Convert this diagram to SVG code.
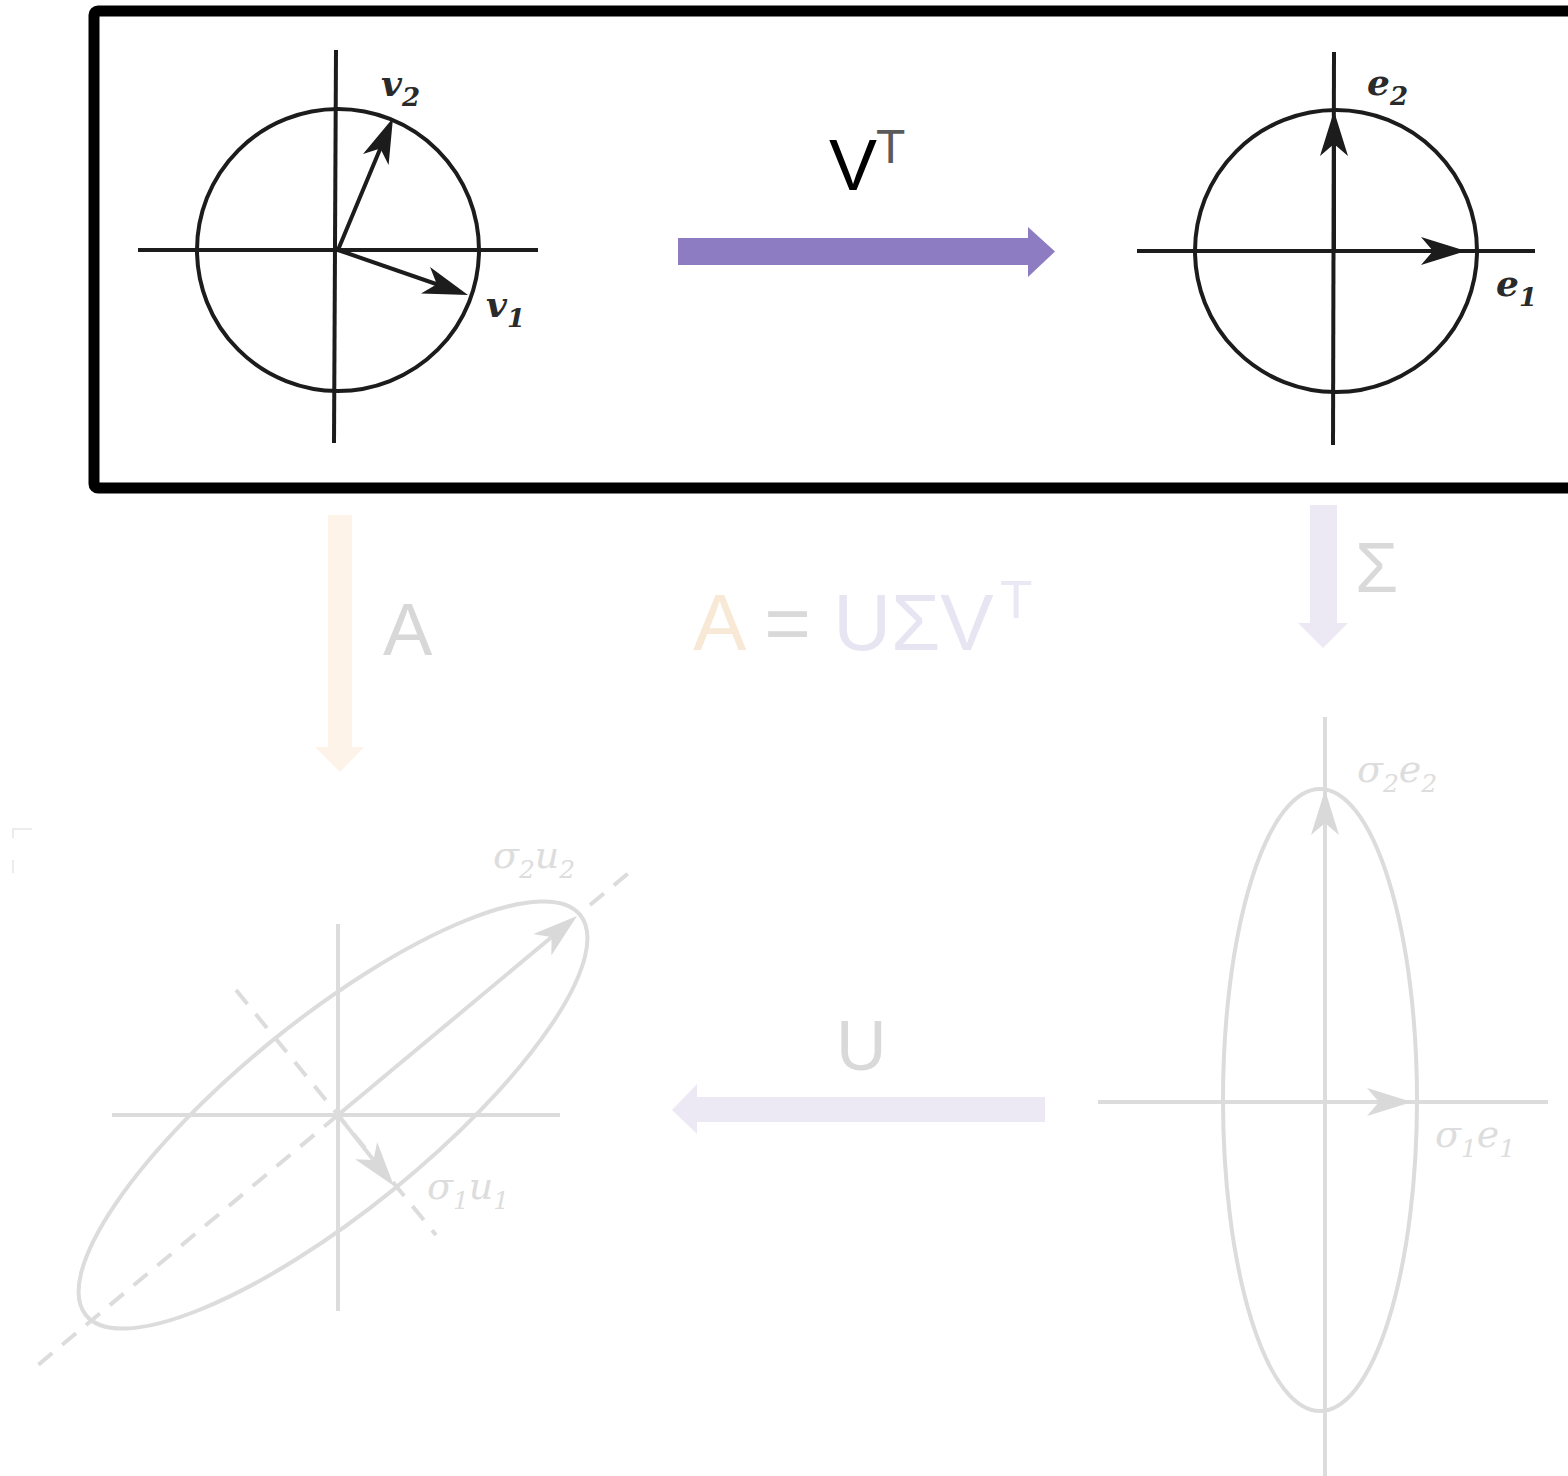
<svg xmlns="http://www.w3.org/2000/svg" width="1568" height="1476" viewBox="0 0 1568 1476">
<style>
.dk{fill:none;stroke:#1c1c1c;stroke-width:4}
.fd{fill:none;stroke:#dcdcdc;stroke-width:4}
.dash{fill:none;stroke:#dcdcdc;stroke-width:4;stroke-dasharray:18 13}
.vlab{font-family:"DejaVu Serif","Liberation Serif",serif;font-style:italic;font-weight:bold;font-size:36px;fill:#2a2a2a}
.slab{font-family:"DejaVu Serif","Liberation Serif",serif;font-style:italic;font-size:38px;fill:#dddddd}
.sans{font-family:"Liberation Sans",Arial,sans-serif}
</style>
<defs>
<marker id="hd" markerUnits="userSpaceOnUse" viewBox="0 0 45 28" markerWidth="45" markerHeight="28" refX="25" refY="14" orient="auto">
<path d="M0,0 L45,14 L0,28 L12,14 z" fill="#1c1c1c"/>
</marker>
<marker id="hf" markerUnits="userSpaceOnUse" viewBox="0 0 45 28" markerWidth="45" markerHeight="28" refX="25" refY="14" orient="auto">
<path d="M0,0 L45,14 L0,28 L12,14 z" fill="#d9d9d9"/>
</marker>
</defs>
<rect width="1568" height="1476" fill="#ffffff"/>

<g id="frame">
<rect x="94" y="11" width="1500" height="477" rx="4" fill="none" stroke="#000000" stroke-width="11"/>
</g>

<g id="node-unit-circle-v">
<circle cx="338" cy="250" r="141" class="dk"/>
<line x1="138" y1="250" x2="538" y2="250" class="dk" stroke-width="5"/>
<line x1="336" y1="50" x2="334" y2="443" class="dk"/>
<line x1="338" y1="250" x2="385.3" y2="136.5" class="dk" marker-end="url(#hd)"/>
<line x1="338" y1="250" x2="449.1" y2="288.5" class="dk" marker-end="url(#hd)"/>
<text x="381" y="96" class="vlab">v<tspan dy="10" font-size="26">2</tspan></text>
<text x="486" y="317" class="vlab">v<tspan dy="10" font-size="26">1</tspan></text>
</g>

<g id="node-unit-circle-e">
<circle cx="1336" cy="251" r="141" class="dk"/>
<line x1="1137" y1="251" x2="1535" y2="251" class="dk" stroke-width="5"/>
<line x1="1334" y1="52" x2="1333" y2="445" class="dk"/>
<line x1="1334" y1="251" x2="1334" y2="131" class="dk" marker-end="url(#hd)"/>
<line x1="1334" y1="251" x2="1446" y2="251" class="dk" marker-end="url(#hd)"/>
<text x="1367" y="95" class="vlab">e<tspan dy="10" font-size="26">2</tspan></text>
<text x="1496" y="296" class="vlab">e<tspan dy="10" font-size="26">1</tspan></text>
</g>

<g id="node-ellipse-u">
<path d="M13,828 L13,838 M13,829 L32,829 M13,860 L13,873" fill="none" stroke="#ececec" stroke-width="2"/>
<line x1="338" y1="1115" x2="38" y2="1365" class="dash"/>
<line x1="590" y1="905" x2="631" y2="871" class="dash"/>
<line x1="236" y1="990" x2="436" y2="1235" class="dash"/>
<ellipse cx="333" cy="1115" rx="318" ry="96" transform="rotate(-39 333 1115)" class="fd"/>
<line x1="112" y1="1115" x2="560" y2="1115" class="fd"/>
<line x1="338" y1="924" x2="338" y2="1311" class="fd"/>
<line x1="338" y1="1115" x2="561.6" y2="928.8" class="fd" marker-end="url(#hf)"/>
<line x1="338" y1="1115" x2="381.6" y2="1170.3" class="fd" marker-end="url(#hf)"/>
<text x="493" y="868" class="slab">σ<tspan dy="10" font-size="25">2</tspan><tspan dy="-10">u</tspan><tspan dy="10" font-size="25">2</tspan></text>
<text x="427" y="1199" class="slab">σ<tspan dy="10" font-size="25">1</tspan><tspan dy="-10">u</tspan><tspan dy="10" font-size="25">1</tspan></text>
</g>

<g id="node-ellipse-e">
<ellipse cx="1320" cy="1100" rx="97" ry="311" class="fd"/>
<line x1="1098" y1="1102" x2="1548" y2="1102" class="fd"/>
<line x1="1325" y1="717" x2="1325" y2="1476" class="fd"/>
<line x1="1325" y1="1102" x2="1325" y2="810" class="fd" marker-end="url(#hf)"/>
<line x1="1325" y1="1102" x2="1392" y2="1102" class="fd" marker-end="url(#hf)"/>
<text x="1357" y="782" class="slab">σ<tspan dy="10" font-size="25">2</tspan><tspan dy="-10">e</tspan><tspan dy="10" font-size="25">2</tspan></text>
<text x="1435" y="1147" class="slab">σ<tspan dy="10" font-size="25">1</tspan><tspan dy="-10">e</tspan><tspan dy="10" font-size="25">1</tspan></text>
</g>

<g id="node-formula">
<text x="693" y="650" class="sans" font-size="80"><tspan fill="#f8e8d6">A</tspan><tspan fill="#d9d9d9"> = </tspan><tspan fill="#e8e5f3">UΣV</tspan></text>
<text x="1000" y="618" class="sans" font-size="53" fill="#ebe8f5">T</text>
</g>

<g id="connectors">
<polygon points="678,238 1028,238 1028,227 1055,251.5 1028,277 1028,265 678,265" fill="#8e7cc3"/>
<text x="829" y="190" class="sans" font-size="72" fill="#000000">V</text>
<text x="876" y="163" class="sans" font-size="48" fill="#5a5a5a">T</text>

<polygon points="328,515 352,515 352,747 364,747 340,772 315,747 328,747" fill="#fdf3e8"/>
<text x="383" y="655" class="sans" font-size="74" fill="#d8d8d8">A</text>

<polygon points="1310,505 1337,505 1337,623 1348,623 1323,648 1298,623 1310,623" fill="#ece9f5"/>
<text x="1355" y="592" class="sans" font-size="70" fill="#d9d9d9">Σ</text>

<polygon points="1045,1097 697,1097 697,1084 672,1110 697,1134 697,1122 1045,1122" fill="#ece9f5"/>
<text x="836" y="1070" class="sans" font-size="70" fill="#d9d9d9">U</text>
</g>
</svg>
